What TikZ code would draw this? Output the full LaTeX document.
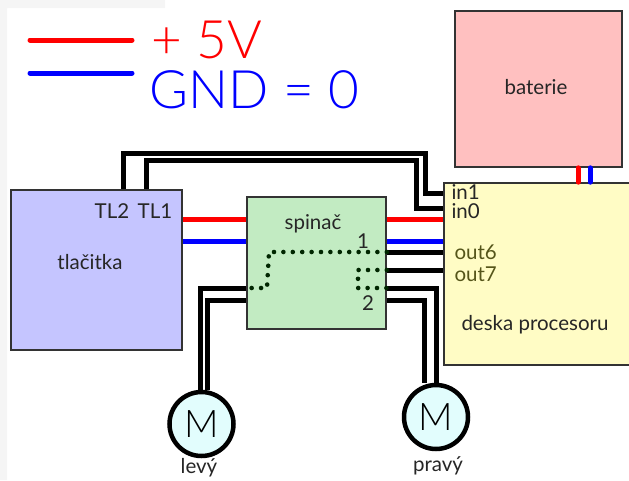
\documentclass[tikz,border=0pt]{standalone}
\usepackage{fontspec}
\setmainfont{Lato}
\newfontfamily\rukafont{Lato Light}
\usetikzlibrary{positioning}

\begin{document}
\begin{tikzpicture}[
		x=1pt, y=-1pt,
		font=\fontsize{20.5}{22}\selectfont,
		blok/.style={
			rectangle,
			draw=black!80,
			line width=1.6pt,
			inner sep=0pt
		},
		motor/.style={
			circle,
			draw=black,
			line width=4.5pt,
			fill=motorcolor,
			minimum size=64pt,
			inner sep=0pt,
			font=\rukafont\fontsize{38}{40}\selectfont
		},
		drat/.style={line width=5pt},
		tecky/.style={line width=4.6pt, line cap=round, dash pattern=on 0pt off 9.4pt, color=black!85!green},
		plus/.style={line width=5pt, color=red},
		zem/.style={line width=5pt, color=blue},
		popis/.style={text=black!85},
		ruka/.style={font=\rukafont\fontsize{53}{55}\selectfont}
		]
		\definecolor{motorcolor}{HTML}{E2FDFD}
		\definecolor{olive}{HTML}{55551A}
		\useasboundingbox (0,0) rectangle (629,480);
		\fill [black!4] (0,0) rectangle (7,480) (7,0) rectangle (165,8);
		
		% We start by placing the blocks
		\node [blok, fill={rgb,255:red,197;green,197;blue,255}, minimum width=171pt, minimum height=160pt] (tlacitka) at (96.5,270) {};
		\node [blok, fill={rgb,255:red,194;green,235;blue,194}, minimum width=139pt, minimum height=132pt] (spinac) at (316.5,263) {};
		\node [blok, fill={rgb,255:red,255;green,252;blue,197}, minimum width=200pt, minimum height=182pt] (deska) at (544,274) {};
		\node [blok, fill={rgb,255:red,255;green,192;blue,192}, minimum width=167pt, minimum height=156pt] (baterie) at (538.5,89) {};
		\node [motor] (levy) at (201.5,424) {M};
		\node [motor] (pravy) at (436,417) {M};
		
		% legend
		\coordinate (r0) at (30,40);
		\coordinate (r1) at (132,40);
		\coordinate (b0) at (30,73);
		\coordinate (b1) at (132,73);
		\draw [plus, line cap=round] (r0) -- (r1);
		\draw [zem, line cap=round] (b0) -- (b1);
		\node [ruka, text=red, anchor=west] (plus5) at (148,40) {+ 5V};
		\node [ruka, text=blue, anchor=west] (gnd) at (146,90) {GND = 0};
		
		% napajeni
		\draw [plus] (tlacitka.east |- 0,219) -- (spinac.west |- 0,219);
		\draw [zem] (tlacitka.east |- 0,241) -- (spinac.west |- 0,241);
		\draw [plus] (spinac.east |- 0,219) -- (deska.west |- 0,219);
		\draw [zem] (spinac.east |- 0,241) -- (deska.west |- 0,241);
		\draw [plus, line cap=round] (baterie.south -| 578,0) -- (deska.north -| 578,0);
		\draw [zem, line cap=round] (baterie.south -| 590,0) -- (deska.north -| 590,0);
		
		% tlacitka
		\draw [drat] (tlacitka.north -| 123,0) |- (425,153) |- (deska.west |- 0,193);
		\draw [drat] (tlacitka.north -| 146,0) |- (416,160) |- (deska.west |- 0,208);
		
		% vystupy a motory
		\draw [drat] (spinac.east |- 0,252) -- (deska.west |- 0,252);
		\draw [drat] (spinac.east |- 0,270) -- (deska.west |- 0,270);
		\draw [drat] (spinac.east |- 0,288) -| (pravy.north -| 436,0);
		\draw [drat] (spinac.east |- 0,300) -| (pravy.north -| 424,0);
		\draw [drat] (spinac.west |- 0,288) -| (levy.north -| 200.5,0);
		\draw [drat] (spinac.west |- 0,300) -| (levy.north -| 207,0);
		
		% tecky uvnitr spinace
		\draw [tecky] (spinac.east |- 0,252) -- (269,252) -- (267,288) -- (spinac.west |- 0,288);
		\draw [tecky] (spinac.east |- 0,270) -- (358,270) -- (358,288) -- (spinac.east |- 0,288);
		
		% popisky
		\node [popis] (tl2) at (112,211) {TL2};
		\node [popis] (tl1) at (155,211) {TL1};
		\node [popis] (tlacitkatext) at (90,262) {tlačitka};
		\node [popis] (spinactext) at (313,224) {spinač};
		\node [popis] (jedna) at (363,241) {1};
		\node [popis] (dva) at (368,303) {2};
		\node [popis, anchor=west] (in1) at (448,192) {in1};
		\node [popis, anchor=west] (in0) at (448,211) {in0};
		\node [text=olive, anchor=west] (out6) at (451,252) {out6};
		\node [text=olive, anchor=west] (out7) at (451,274) {out7};
		\node [popis] (desktext) at (535,325) {deska procesoru};
		\node [popis] (baterietext) at (536,87) {baterie};
		\node [popis] (levytext) at (199,468) {levý};
		\node [popis] (pravytext) at (438,466) {pravý};
		
		\end{tikzpicture}
\end{document}
